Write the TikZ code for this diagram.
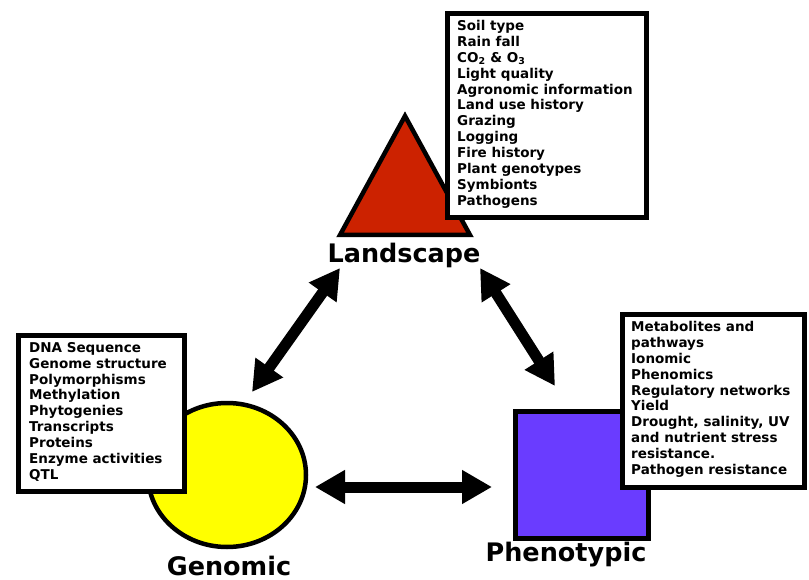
\documentclass[tikz,border=0pt]{standalone}
\usepackage{fontspec}
\setmainfont{DejaVu Sans}
\usetikzlibrary{arrows.meta,shapes.geometric}
\definecolor{tri}{RGB}{204,34,0}
\definecolor{circ}{RGB}{255,255,0}
\definecolor{sq}{RGB}{106,60,255}
\tikzset{
  shapeline/.style={draw=black,line width=4.5pt,line join=miter},
  infobox/.style={draw=black,line width=4.8pt,fill=white,rectangle,inner sep=0pt,anchor=north west},
  listtext/.style={anchor=north west,align=left,inner sep=0pt,font=\fontsize{13.5}{15.9}\selectfont\bfseries},
  biglabel/.style={font=\fontsize{25.5}{28}\selectfont\bfseries,inner sep=0pt},
  dblarrow/.style={line width=11pt,{Triangle[width=32pt,length=30pt]}-{Triangle[width=32pt,length=30pt]}}
}
\begin{document}
\begin{tikzpicture}[x=1pt,y=-1pt]
\useasboundingbox (0,0) rectangle (809,580);
% shapes
\draw[shapeline,fill=tri] (340,235) -- (470,235) -- (405,116) -- cycle;
\node[shapeline,fill=circ,ellipse,minimum width=158pt,minimum height=144pt,inner sep=0pt] (gen) at (227,475) {};
\node[shapeline,fill=sq,rectangle,minimum width=133pt,minimum height=127pt,inner sep=0pt,anchor=north west] (phe) at (513,409) {};
% labels
\node[biglabel,anchor=base] (llab) at (404,263) {Landscape};
\node[biglabel,anchor=base] (glab) at (229,575) {Genomic};
\node[biglabel,anchor=base] (plab) at (566,561) {Phenotypic};
% info boxes
\node[infobox,minimum width=199pt,minimum height=204pt] (lbox) at (445,11) {};
\node[listtext] (ltext) at (457,20) {Soil type\\Rain fall\\CO\textsubscript{2} \& O\textsubscript{3}\\Light quality\\Agronomic information\\Land use history\\Grazing\\Logging\\Fire history\\Plant genotypes\\Symbionts\\Pathogens};
\node[infobox,minimum width=166pt,minimum height=156pt] (gbox) at (16,333) {};
\node[listtext] (gtext) at (29,342) {DNA Sequence\\Genome structure\\Polymorphisms\\Methylation\\Phytogenies\\Transcripts\\Proteins\\Enzyme activities\\QTL};
\node[infobox,minimum width=182pt,minimum height=173pt] (pbox) at (620,312) {};
\node[listtext] (ptext) at (631,321) {Metabolites and\\pathways\\Ionomic\\Phenomics\\Regulatory networks\\Yield\\Drought, salinity, UV\\and nutrient stress\\resistance.\\Pathogen resistance};
% arrows
\coordinate (a1) at (340,268);
\coordinate (a2) at (252,392);
\coordinate (b1) at (480,268);
\coordinate (b2) at (555,386);
\coordinate (c1) at (315,487);
\coordinate (c2) at (492,487);
\draw[dblarrow] (a1) -- (a2);
\draw[dblarrow] (b1) -- (b2);
\draw[dblarrow] (c1) -- (c2);
\end{tikzpicture}
\end{document}
